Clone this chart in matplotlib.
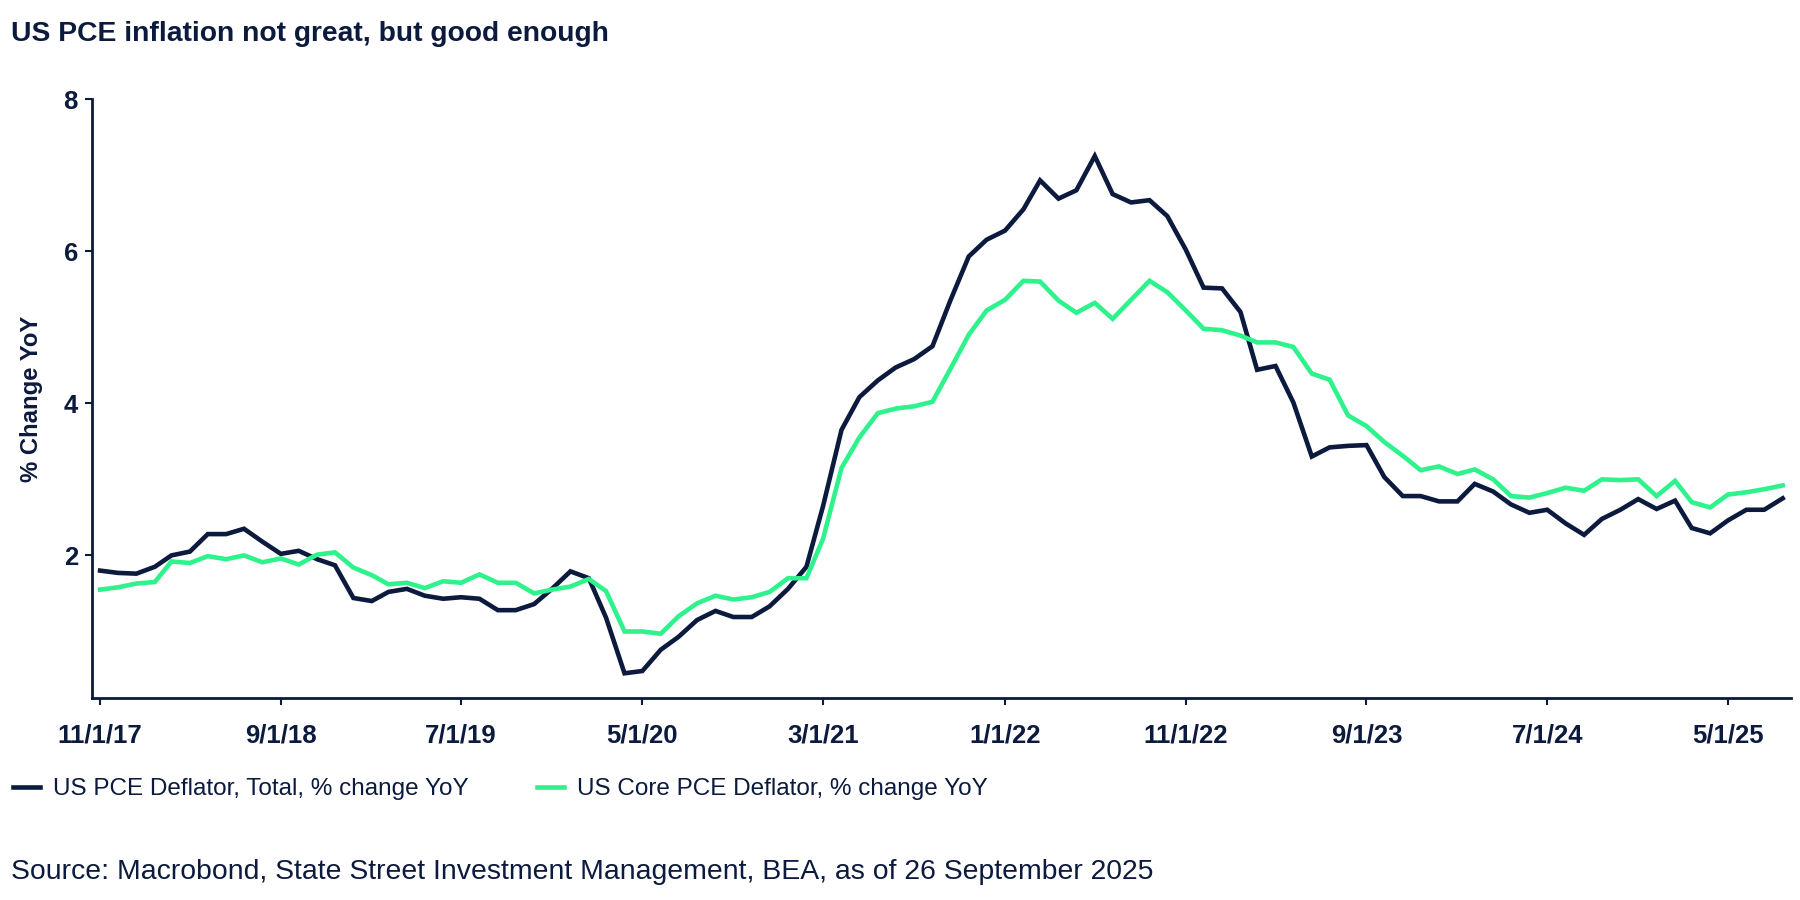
import matplotlib
matplotlib.use("Agg")
import matplotlib.pyplot as plt
import pandas as pd
from matplotlib import font_manager as fm

# ---------------- data ----------------
start_month = "2017-11-01"
n_months = 94
headline = [1.80, 1.77, 1.76, 1.85, 2.00, 2.05, 2.28, 2.28, 2.35, 2.18,
            2.02, 2.06, 1.95, 1.87, 1.44, 1.40, 1.52, 1.56, 1.47, 1.43,
            1.45, 1.43, 1.28, 1.28, 1.36, 1.56, 1.79, 1.70, 1.18, 0.45,
            0.48, 0.76, 0.93, 1.15, 1.27, 1.19, 1.19, 1.33, 1.56, 1.85,
            2.65, 3.65, 4.08, 4.30, 4.47, 4.58, 4.75, 5.35, 5.93, 6.15,
            6.27, 6.55, 6.93, 6.69, 6.80, 7.25, 6.75, 6.64, 6.67, 6.46,
            6.02, 5.52, 5.51, 5.20, 4.44, 4.49, 4.01, 3.30, 3.42, 3.44,
            3.45, 3.03, 2.78, 2.78, 2.71, 2.71, 2.94, 2.84, 2.67, 2.56,
            2.60, 2.42, 2.27, 2.48, 2.60, 2.74, 2.61, 2.72, 2.36, 2.29,
            2.46, 2.60, 2.60, 2.75]
core = [1.55, 1.58, 1.63, 1.65, 1.92, 1.90, 1.99, 1.95, 2.00, 1.91,
        1.96, 1.88, 2.01, 2.04, 1.84, 1.74, 1.62, 1.64, 1.57, 1.66,
        1.64, 1.75, 1.64, 1.64, 1.50, 1.55, 1.59, 1.69, 1.53, 1.00,
        1.00, 0.97, 1.20, 1.37, 1.47, 1.42, 1.45, 1.52, 1.70, 1.70,
        2.22, 3.15, 3.55, 3.87, 3.93, 3.96, 4.02, 4.45, 4.90, 5.22,
        5.36, 5.61, 5.60, 5.35, 5.19, 5.32, 5.11, 5.36, 5.61, 5.46,
        5.22, 4.98, 4.96, 4.89, 4.80, 4.80, 4.74, 4.39, 4.31, 3.84,
        3.70, 3.49, 3.31, 3.12, 3.17, 3.07, 3.13, 3.00, 2.78, 2.76,
        2.82, 2.89, 2.85, 3.00, 2.99, 3.00, 2.78, 2.98, 2.70, 2.63,
        2.80, 2.83, 2.87, 2.92]
series_labels = ["US PCE Deflator, Total, % change YoY",
                 "US Core PCE Deflator, % change YoY"]
tick_labels = ["11/1/17", "9/1/18", "7/1/19", "5/1/20", "3/1/21",
               "1/1/22", "11/1/22", "9/1/23", "7/1/24", "5/1/25"]
y_ticks = [2, 4, 6, 8]
title = "US PCE inflation not great, but good enough"
ylabel = "% Change YoY"
source = "Source: Macrobond, State Street Investment Management, BEA, as of 26 September 2025"

# ---------------- style ----------------
NAVY = "#0b1a3d"
GREEN = "#2ef28c"

avail = {f.name for f in fm.fontManager.ttflist}
narrow = "Liberation Sans Narrow" if "Liberation Sans Narrow" in avail else "Liberation Sans"
plt.rcParams["font.family"] = ["Liberation Sans", "DejaVu Sans"]

dates = pd.date_range(start_month, periods=n_months, freq="MS")
tick_dates = [pd.Timestamp(d) for d in pd.to_datetime(tick_labels, format="%m/%d/%y")]

fig = plt.figure(figsize=(18, 9), dpi=100)
ax = fig.add_axes([0.051, 0.224, 0.944, 0.666])

ax.plot(dates, headline, color=NAVY, lw=3.3, label=series_labels[0], solid_joinstyle="miter")
ax.plot(dates, core, color=GREEN, lw=3.3, label=series_labels[1], solid_joinstyle="miter")

ax.set_ylim(0.12, 8)
ax.set_xlim(dates[0] - pd.Timedelta(days=14), dates[-1] + pd.Timedelta(days=14))
ax.set_yticks(y_ticks)
ax.set_yticklabels([str(v) for v in y_ticks], fontsize=18.5, fontweight="bold", color=NAVY)
ax.set_xticks(tick_dates)
ax.set_xticklabels(tick_labels, fontsize=18.5, fontweight="bold", color=NAVY, family=narrow)

for s in ["top", "right"]:
    ax.spines[s].set_visible(False)
for s in ["left", "bottom"]:
    ax.spines[s].set_color(NAVY)
    ax.spines[s].set_linewidth(2)
ax.tick_params(axis="both", colors=NAVY, width=1.5, length=5)
ax.tick_params(axis="x", pad=13)
ax.tick_params(axis="y", pad=5)

ax.set_ylabel(ylabel, fontsize=17.2, fontweight="bold", color=NAVY, labelpad=15, family=narrow)

fig.text(0.006, 0.962, title, fontsize=20.3, fontweight="bold", color=NAVY, va="center", ha="left")

leg = fig.legend(loc="center left", bbox_to_anchor=(-0.005, 0.123), ncol=2, frameon=False,
                 fontsize=17.5, handlelength=1.1, handletextpad=0.55, columnspacing=2.8)
for t in leg.get_texts():
    t.set_color(NAVY)

fig.text(0.006, 0.031, source, fontsize=20.4, color=NAVY, va="center", ha="left")

fig.savefig("out.png", dpi=100)
